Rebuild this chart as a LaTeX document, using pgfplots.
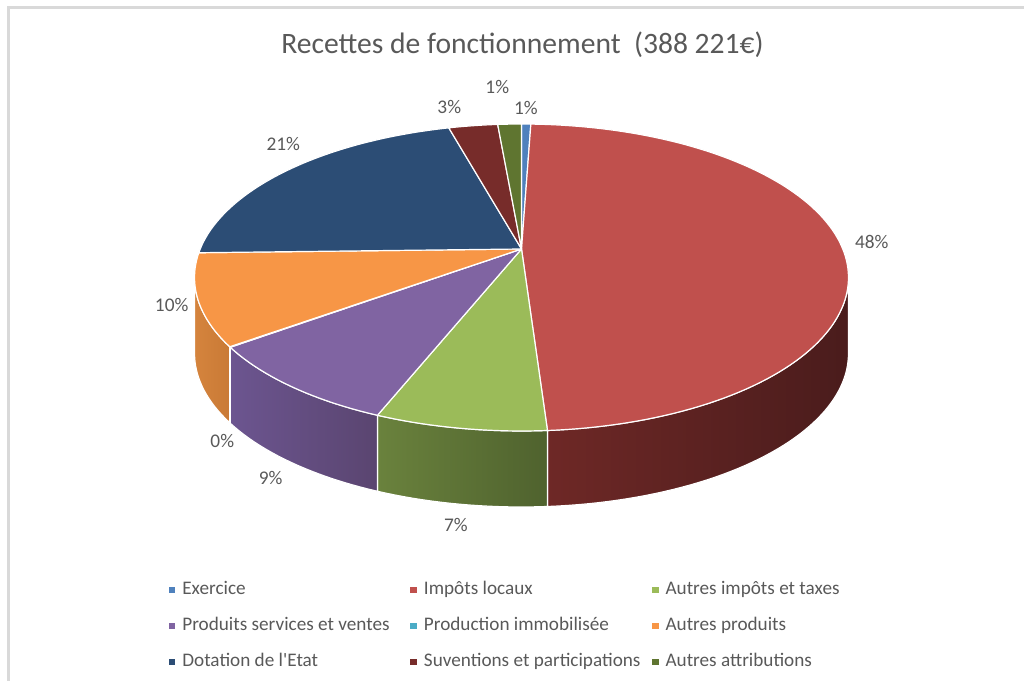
\documentclass[border=0pt]{standalone}
\usepackage{pgfplots}
\usepackage{pgfplotstable}
\pgfplotsset{compat=1.18}
\usepackage{fontspec}
\setmainfont{Carlito}

\definecolor{lgray}{HTML}{595959}
\definecolor{framec}{HTML}{D9D9D9}
\definecolor{slice0}{HTML}{4F81BD}
\definecolor{slice1}{HTML}{C0504D}
\definecolor{slice2}{HTML}{9BBB59}
\definecolor{slice3}{HTML}{8064A2}
\definecolor{slice4}{HTML}{4BACC6}
\definecolor{slice5}{HTML}{F79646}
\definecolor{slice6}{HTML}{2C4D75}
\definecolor{slice7}{HTML}{772C2A}
\definecolor{slice8}{HTML}{5F7530}
\definecolor{sideL0}{HTML}{3F6A9C}\definecolor{sideR0}{HTML}{345A88}
\definecolor{sideL1}{HTML}{6E2826}\definecolor{sideR1}{HTML}{4A1C1C}
\definecolor{sideL2}{HTML}{6A823D}\definecolor{sideR2}{HTML}{4F622E}
\definecolor{sideL3}{HTML}{6C5590}\definecolor{sideR3}{HTML}{5A4570}
\definecolor{sideL4}{HTML}{3A8FA5}\definecolor{sideR4}{HTML}{2F7A8E}
\definecolor{sideL5}{HTML}{D5843D}\definecolor{sideR5}{HTML}{C97A36}
\definecolor{sideL6}{HTML}{1F3A5A}\definecolor{sideR6}{HTML}{1A3150}
\definecolor{sideL7}{HTML}{5A2020}\definecolor{sideR7}{HTML}{4A1A1A}
\definecolor{sideL8}{HTML}{4A5C25}\definecolor{sideR8}{HTML}{3D4D1E}

% share of each item, in percent (Excel order, clockwise from 12 o'clock)
\pgfplotstableread{
idx value
0 0.55
1 48.40
2 7.10
3 8.90
4 0.05
5 9.60
6 21.10
7 2.90
8 1.40
}\piedata

% geometry of the 3D pie (axis units = pixels)
\def\CX{521.5}\def\VY{432}\def\RA{148.2}\def\RB{321.3}\def\KK{0.1857}\def\DEP{76}

\newcommand\addarc[3]{%
  \pgfmathtruncatemacro\arcn{max(2,ceil(abs(#2-#1)/1.5))}%
  \foreach \ii in {0,...,\arcn}{%
    \pgfmathsetmacro\angt{#1+(#2-#1)*(\ii/\arcn)}%
    \pgfmathsetmacro\sfac{1/(1+\KK*cos(\angt))}%
    \pgfmathsetmacro\xx{\CX+\RB*sin(\angt)*\sfac}%
    \pgfmathsetmacro\yy{\VY+\RA*cos(\angt)*\sfac-#3}%
    \xdef\pathspec{\pathspec\sep(axis cs:\xx,\yy)}%
    \gdef\sep{--}%
  }%
}

% build the drawing commands from the table (before the axis, plain pgfmath)
\gdef\piesides{}
\gdef\pietops{}
\pgfplotstablegetrowsof{\piedata}
\pgfmathtruncatemacro\nrows{\pgfplotsretval-1}
\gdef\cum{0}
\foreach \ri in {0,...,\nrows}{%
  \pgfplotstablegetelem{\ri}{value}\of\piedata
  \pgfmathsetmacro\angS{\cum*3.6}%
  \pgfmathsetmacro\newcum{\cum+\pgfplotsretval}%
  \pgfmathsetmacro\angE{\newcum*3.6}%
  \xdef\cum{\newcum}%
  % side (visible front part only)
  \pgfmathsetmacro\sA{max(\angS,100.7)}%
  \pgfmathsetmacro\sB{min(\angE,259.3)}%
  \pgfmathtruncatemacro\vis{\sB>\sA}%
  \ifnum\vis=1
    \gdef\pathspec{}\gdef\sep{}%
    \addarc{\sA}{\sB}{0}%
    \addarc{\sB}{\sA}{\DEP}%
    \xdef\piesides{\unexpanded\expandafter{\piesides}%
      \noexpand\shade[left color=sideL\ri, right color=sideR\ri] \pathspec -- cycle;
      \noexpand\draw[white, line width=0.9pt, line join=round] \pathspec -- cycle;}%
  \fi
  % top face
  \gdef\pathspec{(axis cs:\CX,\VY)}\gdef\sep{--}%
  \addarc{\angS}{\angE}{0}%
  \xdef\pietops{\unexpanded\expandafter{\pietops}%
    \noexpand\fill[slice\ri, draw=white, line width=0.9pt, line join=round] \pathspec -- cycle;}%
}

\newcommand\legimg[1]{\addlegendimage{legend image code/.code={\fill[#1] (0pt,-2.1pt) rectangle (4.2pt,2.1pt); \path (7.8pt,0pt);}}}
\newcommand\legtxt[1]{\addlegendentry{\makebox[169pt][l]{#1}}}

\begin{document}
\begin{tikzpicture}
\begin{axis}[
  x=0.75pt, y=0.75pt,
  xmin=0, xmax=1024, ymin=0, ymax=681,
  hide axis,
  legend columns=3,
  legend cell align=left,
  legend style={at={(axis cs:168.5,103.5)}, anchor=north west, draw=none, fill=none,
    font=\fontsize{14.4}{16}\selectfont, text=lgray,
    inner xsep=0pt, inner ysep=0pt, row sep=9pt,
    nodes={inner sep=2pt, text height=10.5pt, text depth=3.5pt}},
]
\path (axis cs:0,0) rectangle (axis cs:1024,681);
\legimg{slice0}\legtxt{Exercice}
\legimg{slice1}\legtxt{Impôts locaux}
\legimg{slice2}\legtxt{Autres impôts et taxes}
\legimg{slice3}\legtxt{Produits services et ventes}
\legimg{slice4}\legtxt{Production immobilisée}
\legimg{slice5}\legtxt{Autres produits}
\legimg{slice6}\legtxt{Dotation de l\textquotesingle Etat}
\legimg{slice7}\legtxt{Suventions et participations}
\legimg{slice8}\legtxt{Autres attributions}

\pgfplotsextra{\piesides\pietops}

% frame of the chart area
\draw[framec, line width=2.25pt] (axis cs:8,0) -- (axis cs:8,673) -- (axis cs:1024,673);

% title
\node[anchor=base, text=lgray, font=\fontsize{22.2}{26}\selectfont] at (axis cs:522.5,627.7) {Recettes de fonctionnement\ \ (388 221€)};

% data labels
\node[text=lgray, font=\fontsize{14.5}{16}\selectfont, inner sep=0pt] at (axis cs:526,573.3) {1\%};
\node[text=lgray, font=\fontsize{14.5}{16}\selectfont, inner sep=0pt] at (axis cs:497.3,594.3) {1\%};
\node[text=lgray, font=\fontsize{14.5}{16}\selectfont, inner sep=0pt] at (axis cs:449.3,574.3) {3\%};
\node[text=lgray, font=\fontsize{14.5}{16}\selectfont, inner sep=0pt] at (axis cs:871.7,439.3) {48\%};
\node[text=lgray, font=\fontsize{14.5}{16}\selectfont, inner sep=0pt] at (axis cs:283.3,537) {21\%};
\node[text=lgray, font=\fontsize{14.5}{16}\selectfont, inner sep=0pt] at (axis cs:171.7,376) {10\%};
\node[text=lgray, font=\fontsize{14.5}{16}\selectfont, inner sep=0pt] at (axis cs:222.3,240.3) {0\%};
\node[text=lgray, font=\fontsize{14.5}{16}\selectfont, inner sep=0pt] at (axis cs:270.7,202.7) {9\%};
\node[text=lgray, font=\fontsize{14.5}{16}\selectfont, inner sep=0pt] at (axis cs:456,156) {7\%};
\end{axis}
\end{tikzpicture}
\end{document}
